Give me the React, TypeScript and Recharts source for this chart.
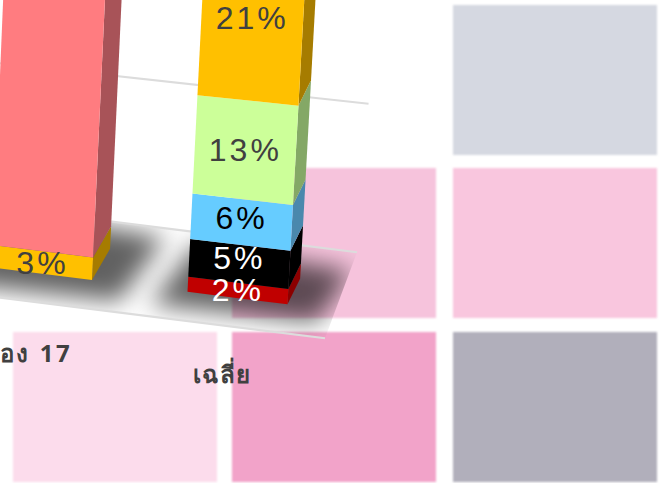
import { BarChart, Bar, XAxis, YAxis, ReferenceLine, LabelList } from "recharts";

const CATEGORIES = ["ห้อง 17", "เฉลี่ย"];
const RED_VALUES = [0, 2];
const BLACK_VALUES = [0, 5];
const BLUE_VALUES = [0, 6];
const GREEN_VALUES = [0, 13];
const GOLD_VALUES = [3, 21];
const SALMON_VALUES = [97, 53];
const BASE_VALUES = [0, 0];
const GRID_VALUES = [20, 40, 60, 80, 100];
const TICK_SPACING = [2.6, 1.4];

const rows = CATEGORIES.map((name, i) => ({
  name,
  base: BASE_VALUES[i],
  red: RED_VALUES[i],
  black: BLACK_VALUES[i],
  blue: BLUE_VALUES[i],
  green: GREEN_VALUES[i],
  gold: GOLD_VALUES[i],
  salmon: SALMON_VALUES[i],
}));

const SERIES = [
  { key: "red", front: "#c00000", side: "#8c0000", text: "#ffffff", dy: [0, 0] },
  { key: "black", front: "#000000", side: "#000000", text: "#ffffff", dy: [0, -6] },
  { key: "blue", front: "#66ccff", side: "#4a88ad", text: "#000000", dy: [0, -4] },
  { key: "green", front: "#ccff99", side: "#84a866", text: "#404040", dy: [0, 0] },
  { key: "gold", front: "#ffc000", side: "#a67c00", text: "#404040", dy: [1, -3] },
  { key: "salmon", front: "#ff7c80", side: "#a85358", text: "#404040", dy: [0, 0] },
];

const TILES = [
  { left: 453, top: 5, color: "#d5d8e1" },
  { left: 232, top: 168, color: "#f6c3dc" },
  { left: 453, top: 168, color: "#f9c6de" },
  { left: 13, top: 332, color: "#fcdcec" },
  { left: 232, top: 332, color: "#f2a3c9" },
  { left: 453, top: 332, color: "#b1afbb" },
];

const CHART_LEFT = -100;
const CHART_TOP = -500;
const CHART_W = 800;
const CHART_H = 983;
const PLOT_LEFT = 44;
const PLOT_W = 391;
const PLOT_TOP = 38;
const PLOT_H = 760;
const BASE_Y = PLOT_TOP + PLOT_H;
const PIVOT_X = 337;
const FLOOR_RIGHT = 435;
const FLOOR_LEFT = 0;

// fake 3D: bars are flat in recharts, this leans and skews them
function project(x: number, y: number, d = 0) {
  const sx = x + CHART_LEFT;
  const h = BASE_Y - y;
  const lean = 0.041 + 0.00005 * sx;
  return {
    x: x + lean * h + d * (14 + (237 - sx) * 0.028),
    y: y + (x - PIVOT_X) * (0.125 - 0.0001 * h) - d * (27 + (237 - sx) * 0.028),
  };
}

const pts = (list: { x: number; y: number }[]) => list.map((p) => `${p.x},${p.y}`).join(" ");

function wallPoint(x: number, y: number) {
  const p = project(x, BASE_Y - (BASE_Y - y) * 0.97);
  return { x: p.x + 22, y: p.y - 58 };
}

function frontPoint(x: number) {
  const p = project(x, BASE_Y);
  return { x: p.x - 10, y: p.y + 28 };
}

function FloorLines() {
  const a = wallPoint(FLOOR_LEFT, BASE_Y);
  const b = wallPoint(FLOOR_RIGHT, BASE_Y);
  const c = frontPoint(FLOOR_LEFT);
  const d = frontPoint(FLOOR_RIGHT);
  return (
    <g stroke="#dcdcdc" strokeWidth={2}>
      <line x1={a.x} y1={a.y} x2={b.x} y2={b.y} />
      <line x1={c.x} y1={c.y} x2={d.x} y2={d.y} />
    </g>
  );
}

function WallLine(props: any) {
  const a = wallPoint(FLOOR_LEFT, props.y1);
  const b = wallPoint(FLOOR_RIGHT + 3, props.y1);
  return <line x1={a.x} y1={a.y} x2={b.x} y2={b.y} stroke="#dcdcdc" strokeWidth={2} />;
}

function ShadowShape(props: any) {
  const { x, width, index } = props;
  const poly = [
    project(x - 28, BASE_Y, -0.55),
    project(x + width + 36, BASE_Y, -0.55),
    project(x + width + 46, BASE_Y, 1.6),
    project(x - 16, BASE_Y, 1.6),
  ];
  const floor = [
    wallPoint(FLOOR_LEFT, BASE_Y),
    wallPoint(FLOOR_RIGHT, BASE_Y),
    frontPoint(FLOOR_RIGHT),
    frontPoint(FLOOR_LEFT),
  ];
  return (
    <g>
      <defs>
        <clipPath id={`floor-${index}`}>
          <polygon points={pts(floor)} />
        </clipPath>
        <filter id={`soft-${index}`} x="-40%" y="-80%" width="180%" height="260%">
          <feGaussianBlur stdDeviation={12} />
        </filter>
      </defs>
      <g clipPath={`url(#floor-${index})`}>
        <polygon points={pts(poly)} fill="#000000" fillOpacity={0.62} filter={`url(#soft-${index})`} />
      </g>
    </g>
  );
}

function Box3D(props: any) {
  const { x, y, width, height, front, side } = props;
  if (!height) return null;
  const bottom = y + height;
  return (
    <g>
      <polygon
        points={pts([project(x + width, bottom), project(x + width, bottom, 1), project(x + width, y, 1), project(x + width, y)])}
        fill={side}
      />
      <polygon
        points={pts([project(x, bottom), project(x + width, bottom), project(x + width, y), project(x, y)])}
        fill={front}
      />
    </g>
  );
}

function BoxLabel(props: any) {
  const { x, y, width, height, value, textColor, dy, index } = props;
  if (!height || !value) return null;
  const p = project(x + width / 2, y + height / 2);
  return (
    <text
      x={p.x}
      y={p.y + dy[index] + 11}
      fill={textColor}
      textAnchor="middle"
      fontFamily="'Liberation Sans', Arial, sans-serif"
      fontSize={32}
      letterSpacing={3}
    >
      {value}%
    </text>
  );
}

function CategoryTick(props: any) {
  const { x, payload, index } = props;
  return (
    <text
      x={x - 15}
      y={883 + (x - 337) * 0.11}
      textAnchor="middle"
      fontFamily="'Noto Sans', 'DejaVu Sans', sans-serif"
      fontWeight="bold"
      fontSize={24}
      letterSpacing={TICK_SPACING[index]}
      fill="#404040"
    >
      {payload.value}
    </text>
  );
}

const NoBar = () => null;

// recharts paints reference lines and labels in its own order, so floor, bars and labels get a chart each
function Layer({ children, showTicks }: { children: any; showTicks?: boolean }) {
  return (
    <div style={{ position: "absolute", left: CHART_LEFT, top: CHART_TOP }}>
      <BarChart
        width={CHART_W}
        height={CHART_H}
        data={rows}
        barSize={100}
        margin={{ top: PLOT_TOP, left: PLOT_LEFT, right: CHART_W - PLOT_LEFT - PLOT_W, bottom: CHART_H - PLOT_TOP - PLOT_H - 30 }}
      >
        <XAxis dataKey="name" height={30} axisLine={false} tickLine={false} tick={showTicks ? <CategoryTick /> : false} interval={0} />
        <YAxis hide domain={[0, 100]} />
        {children}
      </BarChart>
    </div>
  );
}

export default function App() {
  return (
    <div style={{ position: "absolute", left: 0, top: 0, width: 667, height: 483, overflow: "hidden", background: "#ffffff" }}>
      {TILES.map((t) => (
        <div
          key={`${t.left}-${t.top}`}
          style={{ position: "absolute", left: t.left, top: t.top, width: 204, height: 150, background: t.color, filter: "blur(0.8px)" }}
        />
      ))}
      <Layer showTicks>
        <ReferenceLine y={0} shape={<FloorLines />} />
        {GRID_VALUES.map((v) => (
          <ReferenceLine key={v} y={v} shape={<WallLine />} />
        ))}
        <Bar dataKey="base" stackId="a" isAnimationActive={false} shape={<ShadowShape />} />
      </Layer>
      <Layer>
        {SERIES.map((s) => (
          <Bar
            key={s.key}
            dataKey={s.key}
            stackId="a"
            isAnimationActive={false}
            shape={<Box3D front={s.front} side={s.side} />}
          />
        ))}
      </Layer>
      <Layer>
        {SERIES.map((s) => (
          <Bar key={s.key} dataKey={s.key} stackId="a" isAnimationActive={false} shape={<NoBar />}>
            {s.key !== "salmon" && (
              <LabelList dataKey={s.key} content={<BoxLabel textColor={s.text} dy={s.dy} />} />
            )}
          </Bar>
        ))}
      </Layer>
    </div>
  );
}
